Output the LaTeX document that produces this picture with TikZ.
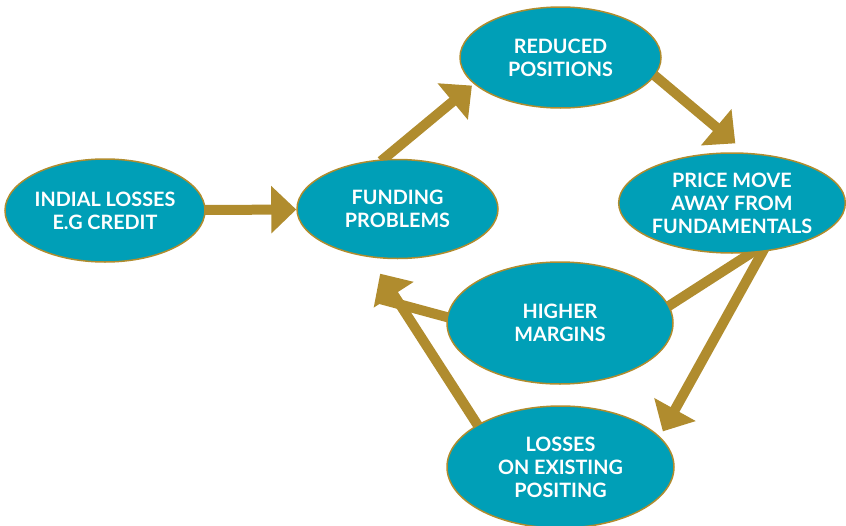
\documentclass[tikz,border=0pt]{standalone}
\usepackage{fontspec}
\setmainfont{Lato}
\usetikzlibrary{shapes.geometric,arrows.meta}
\pgfdeclarelayer{bg}
\pgfsetlayers{bg,main}
\definecolor{tealfill}{HTML}{009FB7}
\definecolor{goldline}{HTML}{B08C2E}
\begin{document}
\begin{tikzpicture}[x=1pt,y=-1pt,
  bub/.style={ellipse,draw=goldline,line width=1.5pt,fill=tealfill,text=white,
    font=\bfseries\fontsize{19.8}{23}\selectfont,align=center,inner sep=0pt},
  arr/.style={draw=goldline,line width=10pt,-{Triangle[length=25pt,width=46pt]}},
  lnk/.style={draw=goldline,line width=10pt}]
\useasboundingbox (0,0) rectangle (846,525);
\node[bub,minimum width=200pt,minimum height=103pt] (ini) at (105,210.5) {INDIAL LOSSES\\E.G CREDIT};
\node[bub,minimum width=201pt,minimum height=99pt] (fund) at (397.5,209) {FUNDING\\PROBLEMS};
\node[bub,minimum width=201pt,minimum height=101pt] (red) at (560.5,57.5) {REDUCED\\POSITIONS};
\node[bub,minimum width=224pt,minimum height=100pt] (price) at (732,203) {PRICE MOVE\\AWAY FROM\\FUNDAMENTALS};
\node[bub,minimum width=226pt,minimum height=122pt] (high) at (560,323) {HIGHER\\MARGINS};
\node[bub,minimum width=227pt,minimum height=122pt] (loss) at (560.5,467) {LOSSES\\ON EXISTING\\POSITING};
\coordinate (hj) at (380,299);
\begin{pgfonlayer}{bg}
\draw[arr,shorten <=-3pt] (ini) -- (fund);
\draw[arr,shorten <=-3pt,shorten >=2.5pt] (fund.106) -- (red.197);
\draw[arr,shorten <=-3pt,shorten >=14.5pt] (red.349) -- (price.74);
\draw[arr,shorten <=-6pt,shorten >=6pt] (price.302) -- (loss.17);
\draw[lnk,shorten <=-3pt,shorten >=-6pt] (high.9) -- (price.291);
\draw[arr,shorten <=-3pt,shorten >=19.5pt] (loss.153) -- (fund.240);
\draw[lnk,shorten <=-3pt] (high.177) -- (hj);
\end{pgfonlayer}
\end{tikzpicture}
\end{document}
